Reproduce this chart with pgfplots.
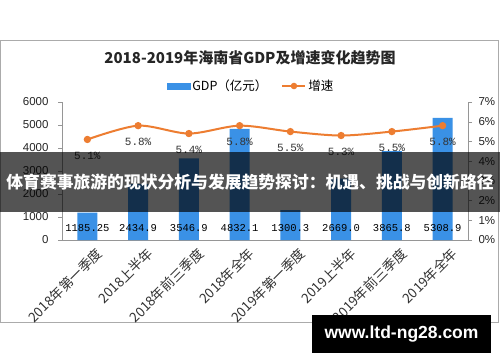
\documentclass[border=0pt]{standalone}
\usepackage{pgfplots}
\pgfplotsset{compat=1.18}
\usepackage{fontspec}
\setmainfont{Liberation Sans}
\newfontfamily\cjk{Noto Sans CJK SC}
\newfontfamily\mono{Liberation Mono}
\definecolor{barblue}{RGB}{58,145,230}
\definecolor{lineorange}{RGB}{237,125,49}
\definecolor{axgray}{RGB}{150,150,150}
\begin{document}
\begin{tikzpicture}[x=1pt,y=1pt]
\path[use as bounding box] (0pt,0pt) rectangle (500pt,362pt);
\fill[white] (0pt,0pt) rectangle (500pt,362pt);
\draw[axgray!80, line width=0.8pt] (0.5pt,40pt) rectangle (498pt,322pt);
\node[font=\cjk\bfseries\fontsize{15}{17}\selectfont, text=black!85] at (250pt,304pt) {2018-2019年海南省GDP及增速变化趋势图};
\begin{axis}[
  at={(62pt,122pt)}, anchor=south west, scale only axis,
  width=406pt, height=138pt,
  xmin=-0.5, xmax=7.5, ymin=0, ymax=6000,
  ytick={0,1000,...,6000},
  axis y line*=left, axis x line*=bottom,
  axis line style={axgray}, tick style={axgray},
  tick align=outside, major tick length=4pt,
  xtick={0,...,7},
  x tick style={draw=none},
  extra x ticks={-0.5,0.5,...,7.5},
  extra x tick labels={},
  extra x tick style={tick style={draw=axgray}, major tick length=5pt},
  xticklabels={2018年第一季度,2018上半年,2018年前三季度,2018年全年,2019年第一季度,2019上半年,2019年前三季度,2019年全年},
  x tick label style={rotate=45, anchor=north east, font=\cjk\fontsize{13.5}{14}\selectfont, text=black!80, inner sep=1pt, xshift=5pt, yshift=-6pt},
  /pgf/number format/assume math mode=true,
  y tick label style={font=\fontsize{11.5}{12}\selectfont, text=black!85, xshift=-6pt},
  scaled y ticks=false,
  yticklabel style={/pgf/number format/1000 sep={}},
  clip=false,
]
\addplot[ybar, bar width=20pt, fill=barblue, draw=none] coordinates {
(0,1185.25) (1,2434.9) (2,3546.9) (3,4832.1) (4,1300.3) (5,2669.0) (6,3865.8) (7,5308.9)};
\node[font=\mono\fontsize{10.5}{11}\selectfont] at (axis cs:0,520) {1185.25};
\node[font=\mono\fontsize{10.5}{11}\selectfont] at (axis cs:1,520) {2434.9};
\node[font=\mono\fontsize{10.5}{11}\selectfont] at (axis cs:2,520) {3546.9};
\node[font=\mono\fontsize{10.5}{11}\selectfont] at (axis cs:3,520) {4832.1};
\node[font=\mono\fontsize{10.5}{11}\selectfont] at (axis cs:4,520) {1300.3};
\node[font=\mono\fontsize{10.5}{11}\selectfont] at (axis cs:5,520) {2669.0};
\node[font=\mono\fontsize{10.5}{11}\selectfont] at (axis cs:6,520) {3865.8};
\node[font=\mono\fontsize{10.5}{11}\selectfont] at (axis cs:7,520) {5308.9};
\end{axis}
\begin{axis}[
  at={(62pt,122pt)}, anchor=south west, scale only axis,
  width=406pt, height=138pt,
  xmin=-0.5, xmax=7.5, ymin=0, ymax=7,
  ytick={0,...,7},
  yticklabel={\pgfmathprintnumber{\tick}\%},
  axis y line*=right, axis x line=none,
  axis line style={axgray}, tick style={axgray},
  tick align=outside, major tick length=4pt,
  /pgf/number format/assume math mode=true,
  y tick label style={font=\fontsize{11.5}{12}\selectfont, text=black!85, xshift=3pt},
  clip=false,
  legend style={draw=none, fill=none, at={(0.466,1.116)}, anchor=center, legend columns=2,
    font=\cjk\fontsize{12.5}{13}\selectfont, /tikz/every even column/.append style={column sep=12pt}},
]
\addlegendimage{legend image code/.code={\fill[barblue] (0pt,-3pt) rectangle (23pt,3pt);}}
\addlegendentry{GDP（亿元）}
\addplot[lineorange, line width=2pt, smooth, mark=*, mark size=2.6pt,
  nodes near coords={\pgfmathprintnumber[fixed,fixed zerofill,precision=1]{\pgfplotspointmeta}\%},
  every node near coord/.append style={anchor=north, yshift=-8pt, font=\mono\fontsize{11}{12}\selectfont, text=black!80},
  legend image code/.code={\draw[lineorange, line width=2pt] (0pt,0pt) -- (23pt,0pt); \fill[lineorange] (11.5pt,0pt) circle (2.2pt);}
] coordinates {
(0,5.1) (1,5.8) (2,5.4) (3,5.8) (4,5.5) (5,5.3) (6,5.5) (7,5.8)};
\addlegendentry{增速}
\end{axis}
\fill[black, opacity=0.67] (0pt,150pt) rectangle (500pt,210pt);
\node[text=white, font=\cjk\bfseries\fontsize{16.8}{18}\selectfont] at (250pt,180pt) {体育赛事旅游的现状分析与发展趋势探讨：机遇、挑战与创新路径};
\fill[black] (312pt,9pt) rectangle (491pt,47pt);
\node[text=white, font=\bfseries\fontsize{17.5}{19}\selectfont] at (401.5pt,28pt) {www.ltd-ng28.com};
\end{tikzpicture}
\end{document}
